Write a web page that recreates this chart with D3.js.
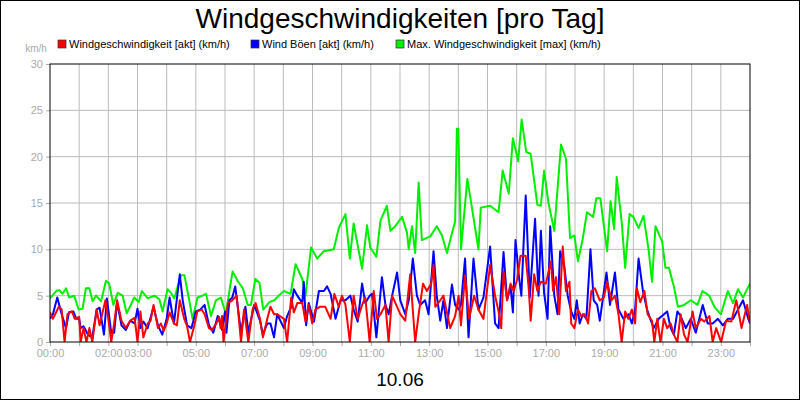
<!DOCTYPE html>
<html><head><meta charset="utf-8">
<script src="https://cdn.jsdelivr.net/npm/d3@7"></script>
<style>body{margin:0;background:#fff}svg{font-family:"Liberation Sans",Arial,sans-serif}</style>
</head><body><svg id="chart" width="800" height="400"></svg>
<script>
// values: [hour, km/h]
var windAkt = [[0,3.2],[.1,2.5],[.3,3.8],[.4,3.5],[.5,0],[.6,3.0],[.75,3.3],[.85,2.5],[1.0,2.7],[1.05,0],[1.15,1.5],[1.25,0],[1.35,1.5],[1.45,0],[1.6,3.5],[1.7,1.8],[1.9,4.5],[2.0,2.5],[2.1,0],[2.2,2.0],[2.3,4.5],[2.45,2.3],[2.6,1.5],[2.75,2.3],[2.9,2.6],[3.0,0],[3.1,3.3],[3.2,0.5],[3.35,2.0],[3.45,2.3],[3.55,4.0],[3.7,1.5],[3.8,2.0],[3.9,1.2],[4.0,2.0],[4.1,3.2],[4.25,2.0],[4.35,1.8],[4.45,4.5],[4.6,2.5],[4.7,1.7],[4.8,0],[4.95,1.8],[5.05,3.3],[5.2,3.5],[5.3,3.0],[5.45,1.5],[5.55,1.3],[5.7,2.0],[5.8,2.7],[5.85,1.5],[5.9,2.8],[5.95,0],[6.1,4.2],[6.25,4.5],[6.4,5.0],[6.55,0],[6.65,3.5],[6.8,0],[6.95,3.6],[7.05,4.2],[7.2,2.5],[7.3,0.5],[7.45,2.5],[7.56,3.8],
  [7.68,3.0],[7.79,3.0],[8.02,2.5],[8.13,0],[8.27,4.8],[8.36,3.2],[8.48,4.2],[8.65,4.2],[8.76,2.2],[8.87,4.0],[8.99,2.0],[9.1,3.5],[9.25,3.8],[9.44,3.8],[9.62,2.5],[9.75,5.2],[9.9,3.8],[10.01,5.0],[10.13,4.0],[10.28,0],[10.41,5.0],[10.55,2.5],[10.7,4.0],[10.81,4.8],[10.96,0],[11.1,5.5],[11.21,2.5],[11.33,3.0],[11.5,4.0],[11.61,0],[11.73,5.0],[11.87,4.0],[12.01,3.0],[12.18,2.3],[12.35,7.3],[12.52,0],[12.64,3.0],[12.79,6.3],[12.92,5.5],[13.07,6.3],[13.15,8.3],[13.21,3.8],[13.38,4.5],[13.49,5.0],[13.61,3.2],[13.72,1.5],[13.89,2.8],[14.01,5.0],[14.09,1.8],[14.23,7.2],[14.37,2.5],[14.54,5.0],[14.69,3.5],[14.86,2.5],[15.09,8.3],[15.26,5.0],[15.38,3.3],[15.47,1.5],
  [15.55,7.6],[15.67,4.5],[15.79,6.3],[15.9,5.5],[16.02,6.8],[16.13,9.3],[16.31,9.3],[16.42,5.5],[16.48,2.3],[16.6,7.3],[16.71,5.5],[16.83,6.5],[17.0,6.3],[17.17,8.7],[17.25,5.5],[17.35,7.0],[17.46,3.0],[17.58,10.3],[17.69,5.5],[17.81,6.5],[17.87,2.0],[17.98,1.5],[18.1,3.5],[18.21,2.8],[18.33,3.0],[18.45,2.0],[18.56,5.5],[18.68,5.8],[18.85,4.5],[18.99,4.8],[19.1,6.5],[19.25,4.5],[19.37,5.0],[19.49,3.0],[19.6,0],[19.72,3.3],[19.83,2.5],[19.95,3.5],[20.06,2.0],[20.12,5.8],[20.24,4.3],[20.38,5.5],[20.49,3.0],[20.64,2.3],[20.72,0],[20.82,2.5],[20.93,0],[21.05,2.5],[21.16,1.5],[21.28,2.0],[21.39,0.8],[21.51,0],[21.62,3.0],[21.74,0.8],[21.86,0],[22.03,3.3],[22.14,1.5],[22.32,2.5],[22.43,2.2],[22.61,2.8],[22.72,0],[22.84,1.5],[23.01,0],[23.18,2.3],[23.36,2.2],[23.53,4.5],[23.71,1.5],[23.9,4.0],[24.0,2.0]];

var windBoeen = [[0,2.5],[.1,3.0],[.25,4.8],[.4,3.0],[.55,1.5],[.65,3.2],[.8,3.3],[.9,2.5],[1.0,2.5],[1.05,1.5],[1.15,1.7],[1.3,0.8],[1.45,0.5],[1.6,3.5],[1.7,3.7],[1.85,0.8],[1.95,4.7],[2.1,1.0],[2.2,1.0],[2.3,4.3],[2.45,1.8],[2.6,1.3],[2.75,2.3],[2.9,2.0],[3.0,3.6],[3.1,1.5],[3.2,2.2],[3.35,1.5],[3.55,3.8],[3.7,1.8],[3.85,0.8],[4.0,2.5],[4.1,4.8],[4.25,2.0],[4.45,7.3],[4.55,4.5],[4.7,1.8],[4.85,1.5],[5.0,3.3],[5.15,3.5],[5.3,4.0],[5.45,1.8],[5.6,1.0],[5.75,2.8],[5.9,1.3],[6.0,3.3],[6.05,1.0],[6.15,4.5],[6.25,4.8],[6.35,6.0],[6.55,1.0],[6.7,3.8],[6.8,1.0],[7.0,4.0],[7.2,2.3],[7.3,0.8],[7.45,2.0],[7.56,2.0],
  [7.68,0.5],[7.79,3.0],[8.02,1.5],[8.13,2.8],[8.27,3.8],[8.36,5.7],[8.48,5.0],[8.65,4.2],[8.7,6.5],[8.78,1.8],[8.87,4.2],[9.05,2.2],[9.22,5.5],[9.39,5.5],[9.5,6.0],[9.62,5.2],[9.79,2.5],[9.96,4.5],[10.13,4.5],[10.3,5.0],[10.41,3.5],[10.55,2.2],[10.7,6.3],[10.81,4.2],[10.96,5.0],[11.04,5.2],[11.19,0.5],[11.38,7.0],[11.5,4.0],[11.61,3.0],[11.73,5.0],[11.9,7.5],[12.01,4.5],[12.18,3.0],[12.3,4.5],[12.44,9.0],[12.58,5.0],[12.69,4.0],[12.86,4.5],[12.98,3.0],[13.15,9.8],[13.26,5.0],[13.38,2.3],[13.49,4.5],[13.61,1.5],[13.78,6.2],[13.89,4.0],[14.01,3.5],[14.09,4.0],[14.23,9.0],[14.35,0.5],[14.52,9.0],[14.69,3.5],[14.86,4.8],[15.09,10.3],[15.26,2.0],[15.38,1.5],
  [15.55,9.7],[15.67,4.5],[15.79,6.0],[15.87,3.2],[15.96,11.0],[16.08,7.0],[16.16,5.0],[16.31,15.8],[16.45,4.8],[16.63,13.3],[16.75,5.0],[16.83,12.0],[16.94,5.3],[17.06,2.5],[17.15,12.5],[17.29,5.0],[17.4,3.0],[17.49,9.8],[17.64,8.0],[17.75,5.0],[17.87,3.3],[17.98,2.5],[18.06,4.5],[18.16,2.0],[18.27,3.0],[18.39,2.5],[18.53,10.0],[18.64,4.5],[18.76,4.0],[18.85,2.3],[18.97,5.0],[19.08,7.5],[19.2,4.0],[19.37,7.5],[19.49,3.5],[19.66,2.5],[19.83,3.0],[19.95,2.0],[20.06,3.5],[20.18,9.0],[20.33,5.5],[20.47,3.5],[20.58,2.5],[20.7,1.5],[20.87,2.5],[21.05,3.0],[21.16,3.3],[21.28,1.5],[21.39,0.8],[21.51,3.3],[21.62,2.8],[21.8,1.5],[21.97,2.5],[22.14,1.0],[22.38,4.0],[22.55,2.0],[22.72,2.0],[22.9,2.5],[23.07,1.8],[23.24,2.5],[23.42,2.5],[23.59,3.5],[23.76,4.5],[23.94,2.5],[24.0,2.0]];

var windMax = [[0,4.7],[.21,5.5],[.32,5.6],[.43,5.2],[.55,5.8],[.66,4.8],[.83,5.0],[.98,3.5],[1.12,3.6],[1.23,5.8],[1.35,5.8],[1.46,4.4],[1.58,5.0],[1.75,4.4],[1.92,6.6],[2.03,6.3],[2.17,4.0],[2.32,5.3],[2.49,5.0],[2.63,3.1],[2.74,3.8],[2.89,4.8],[3.04,4.3],[3.15,5.5],[3.35,4.7],[3.58,5.0],[3.75,4.6],[3.86,3.3],[4.03,5.7],[4.15,5.3],[4.26,4.7],[4.49,7.2],[4.61,7.2],[4.78,4.4],[4.89,2.5],[5.06,4.8],[5.23,5.0],[5.35,5.2],[5.52,2.8],[5.69,4.5],[5.86,4.8],[6.03,3.0],[6.15,5.5],[6.26,7.6],[6.43,6.6],[6.61,5.8],[6.78,4.0],[6.89,4.0],[7.04,6.8],[7.18,6.4],[7.31,3.5],[7.52,4.3],[7.69,4.5],[7.84,5.0],
  [8.02,5.5],[8.25,5.2],[8.42,8.4],[8.65,6.8],[8.76,5.0],[8.95,10.2],[9.16,9.0],[9.39,9.8],[9.73,10.0],[9.9,12.3],[10.13,13.8],[10.28,9.0],[10.41,12.8],[10.7,7.9],[10.87,12.6],[10.98,10.2],[11.19,9.2],[11.33,13.1],[11.55,14.7],[11.67,12.0],[11.84,12.5],[12.07,13.5],[12.24,11.8],[12.3,10.0],[12.41,12.5],[12.52,9.6],[12.64,17.2],[12.75,11.0],[13.04,11.4],[13.26,12.5],[13.44,11.5],[13.61,9.6],[13.78,11.7],[13.89,13.0],[13.95,23.0],[14.0,23.0],[14.09,10.0],[14.31,17.6],[14.69,10.0],[14.77,14.5],[15.09,14.7],[15.38,14.0],
  [15.52,18.5],[15.73,16.0],[15.87,22.0],[16.05,19.5],[16.17,24.0],[16.33,20.5],[16.48,20.3],[16.71,14.8],[16.83,14.7],[16.94,18.5],[17.09,15.0],[17.29,12.0],[17.52,21.3],[17.69,19.8],[17.83,11.2],[17.98,11.5],[18.1,8.7],[18.27,11.2],[18.41,14.0],[18.62,13.5],[18.73,15.5],[18.87,15.5],[19.1,9.8],[19.22,15.2],[19.34,12.2],[19.43,17.8],[19.6,13.0],[19.72,8.0],[19.87,13.8],[20.0,13.5],[20.18,12.3],[20.35,13.6],[20.53,9.8],[20.64,6.5],[20.76,12.5],[20.99,10.8],[21.1,8.0],[21.22,8.0],[21.39,6.0],[21.53,3.8],[21.74,4.0],[21.97,4.5],[22.2,4.0],[22.37,5.5],[22.6,5.0],[22.78,3.8],[23.0,3.0],[23.24,5.5],[23.42,4.2],[23.59,5.7],[23.76,4.8],[24.0,6.3]];

var series = [
  {name: "Windgeschwindigkeit [akt] (km/h)", color: "#ff0000", data: windAkt},
  {name: "Wind Böen [akt] (km/h)", color: "#0000ff", data: windBoeen},
  {name: "Max. Windgeschwindigkeit [max] (km/h)", color: "#00ee00", data: windMax}
];
var hourLabels = {0:"00:00",2:"02:00",3:"03:00",5:"05:00",7:"07:00",9:"09:00",11:"11:00",13:"13:00",15:"15:00",17:"17:00",19:"19:00",21:"21:00",23:"23:00"};
var yTicks = [0,5,10,15,20,25,30];

var svg = d3.select("#chart");
var m = {left: 50, right: 750, top: 64, bottom: 342};
var x = d3.scaleLinear().domain([0,24]).range([m.left, m.right]);
var y = d3.scaleLinear().domain([0,30]).range([m.bottom, m.top]);

svg.append("rect").attr("x",0.5).attr("y",0.5).attr("width",799).attr("height",399)
  .attr("fill","#fff").attr("stroke","#000");

svg.append("text").attr("x",400).attr("y",28).attr("text-anchor","middle")
  .attr("font-size",28).text("Windgeschwindigkeiten [pro Tag]");

//grid
svg.append("g").selectAll("line").data(d3.range(1,24)).enter().append("line")
  .attr("x1",x).attr("x2",x).attr("y1",m.top).attr("y2",m.bottom)
  .attr("stroke","#bbb");
svg.append("g").selectAll("line").data(yTicks.slice(1,-1)).enter().append("line")
  .attr("x1",m.left).attr("x2",m.right).attr("y1",y).attr("y2",y)
  .attr("stroke","#bbb");

//axes
var xAxis = svg.append("g").attr("transform","translate(0,"+m.bottom+")")
  .call(d3.axisBottom(x).tickValues(d3.range(0,25)).tickSize(4)
    .tickFormat(function(d){ return hourLabels[d] || ""; }));
var yAxis = svg.append("g").attr("transform","translate("+m.left+",0)")
  .call(d3.axisLeft(y).tickValues(yTicks).tickSize(4));
[xAxis, yAxis].forEach(function(a){
  a.select(".domain").remove();
  a.selectAll("line").attr("stroke","#aaa");
  a.selectAll("text").attr("fill","#aaa").attr("font-size",11)
    .attr("font-family","'Liberation Sans',Arial,sans-serif");
});

svg.append("text").attr("x",36).attr("y",52).attr("text-anchor","middle")
  .attr("font-size",10).attr("fill","#aaa").text("km/h");

//lines
svg.append("clipPath").attr("id","clip").append("rect")
  .attr("x",m.left).attr("y",m.top).attr("width",m.right-m.left).attr("height",m.bottom-m.top);
var line = d3.line().x(function(d){ return x(d[0]); }).y(function(d){ return y(d[1]); });
svg.append("g").attr("clip-path","url(#clip)").selectAll("path")
  .data([series[2], series[1], series[0]]).enter().append("path")
    .attr("d", function(d){ return line(d.data); })
    .attr("fill","none").attr("stroke", function(d){ return d.color; })
    .attr("stroke-width",2).attr("stroke-linejoin","round");

svg.append("rect").attr("x",m.left).attr("y",m.top).attr("width",m.right-m.left)
  .attr("height",m.bottom-m.top).attr("fill","none").attr("stroke","#000");

//legend
var legendX = [58, 251, 396];
var lg = svg.append("g").selectAll("g").data(series).enter().append("g")
  .attr("transform", function(d,i){ return "translate("+legendX[i]+",40)"; });
lg.append("rect").attr("width",8).attr("height",8).attr("fill",function(d){ return d.color; })
  .attr("stroke","#333").attr("stroke-width",0.7);
lg.append("text").attr("x",11).attr("y",8).attr("font-size",11).text(function(d){ return d.name; });

svg.append("text").attr("x",400).attr("y",386).attr("text-anchor","middle")
  .attr("font-size",19).text("10.06");
</script></body></html>
